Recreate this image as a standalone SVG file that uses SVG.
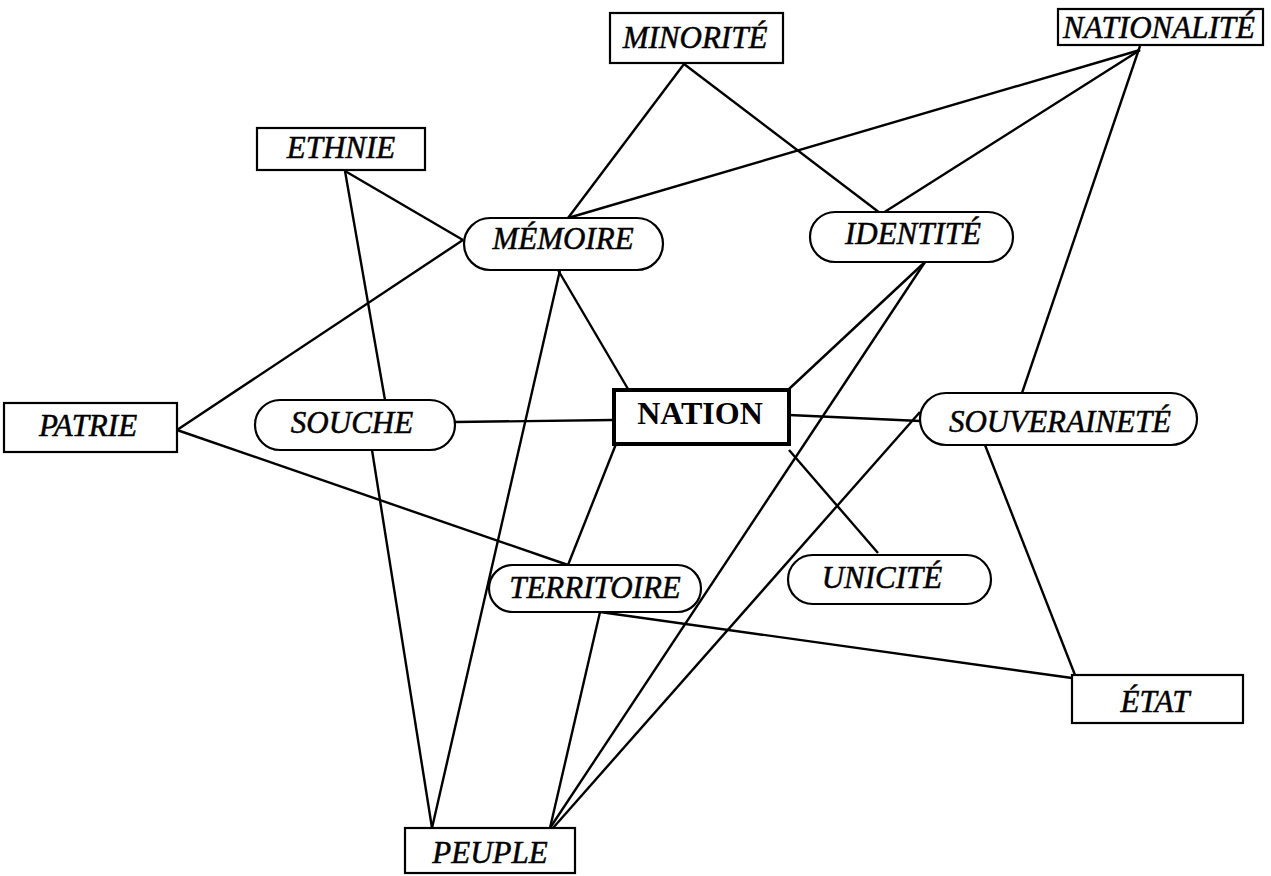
<svg xmlns="http://www.w3.org/2000/svg" width="1271" height="876" viewBox="0 0 1271 876">
<style>
.bg{fill:#fff}
.box{fill:#fff;stroke:#000;stroke-width:2.2}
.main{fill:#fff;stroke:#000;stroke-width:4}
.lbl{font-family:"Liberation Serif","Times New Roman",serif;font-style:italic;font-size:31px;text-anchor:middle;fill:#000;stroke:#000;stroke-width:0.5}
.ml{font-family:"Liberation Serif","Times New Roman",serif;font-weight:bold;font-size:32px;text-anchor:middle;fill:#000}
#connectors line{stroke:#000;stroke-width:2.4;fill:none}
</style>
<rect class="bg" x="0" y="0" width="1271" height="876"/>
<g id="connectors">
<line x1="684" y1="64" x2="568" y2="218"/>
<line x1="684" y1="64" x2="880" y2="213"/>
<line x1="1140" y1="50" x2="568" y2="218"/>
<line x1="1140" y1="50" x2="883" y2="213"/>
<line x1="1140" y1="46" x2="1022" y2="393"/>
<line x1="345" y1="171" x2="463" y2="240"/>
<line x1="345" y1="171" x2="385" y2="400"/>
<line x1="177" y1="430" x2="463" y2="240"/>
<line x1="177" y1="430" x2="568" y2="565"/>
<line x1="558" y1="270" x2="628" y2="389"/>
<line x1="560" y1="270" x2="432" y2="828"/>
<line x1="455" y1="422" x2="613" y2="420"/>
<line x1="372" y1="450" x2="432" y2="828"/>
<line x1="789" y1="415" x2="920" y2="421"/>
<line x1="925" y1="262" x2="789" y2="389"/>
<line x1="925" y1="262" x2="550" y2="828"/>
<line x1="920" y1="412" x2="553" y2="828"/>
<line x1="616" y1="444" x2="568" y2="565"/>
<line x1="789" y1="450" x2="878" y2="553"/>
<line x1="985" y1="445" x2="1075" y2="675"/>
<line x1="600" y1="612" x2="1072" y2="678"/>
<line x1="600" y1="612" x2="550" y2="828"/>
</g>
<g id="minorite"><rect class="box" x="610" y="13" width="173" height="50"/><text class="lbl" x="695" y="48">MINORITÉ</text></g>
<g id="nationalite"><rect class="box" x="1058" y="9" width="205" height="36"/><text class="lbl" x="1159" y="38">NATIONALITÉ</text></g>
<g id="ethnie"><rect class="box" x="257" y="128" width="168" height="42"/><text class="lbl" x="341" y="158">ETHNIE</text></g>
<g id="memoire"><rect class="box" x="464" y="218" width="199" height="52" rx="26"/><text class="lbl" x="563" y="249">MÉMOIRE</text></g>
<g id="identite"><rect class="box" x="810" y="212" width="203" height="50" rx="25"/><text class="lbl" x="913" y="244">IDENTITÉ</text></g>
<g id="patrie"><rect class="box" x="4" y="403" width="173" height="49"/><text class="lbl" x="88" y="436">PATRIE</text></g>
<g id="souche"><rect class="box" x="255" y="400" width="200" height="50" rx="25"/><text class="lbl" x="352" y="433">SOUCHE</text></g>
<g id="nation"><rect class="main" x="614" y="390" width="175" height="54"/><text class="ml" x="700" y="424">NATION</text></g>
<g id="souverainete"><rect class="box" x="920" y="393" width="277" height="52" rx="26"/><text class="lbl" x="1060" y="432">SOUVERAINETÉ</text></g>
<g id="territoire"><rect class="box" x="489" y="565" width="212" height="47" rx="23.5"/><text class="lbl" x="595" y="598">TERRITOIRE</text></g>
<g id="unicite"><rect class="box" x="788" y="555" width="203" height="49" rx="24.5"/><text class="lbl" x="882" y="588">UNICITÉ</text></g>
<g id="etat"><rect class="box" x="1072" y="675" width="171" height="48"/><text class="lbl" x="1155" y="712">ÉTAT</text></g>
<g id="peuple"><rect class="box" x="405" y="828" width="170" height="45"/><text class="lbl" x="490" y="863">PEUPLE</text></g>
</svg>
